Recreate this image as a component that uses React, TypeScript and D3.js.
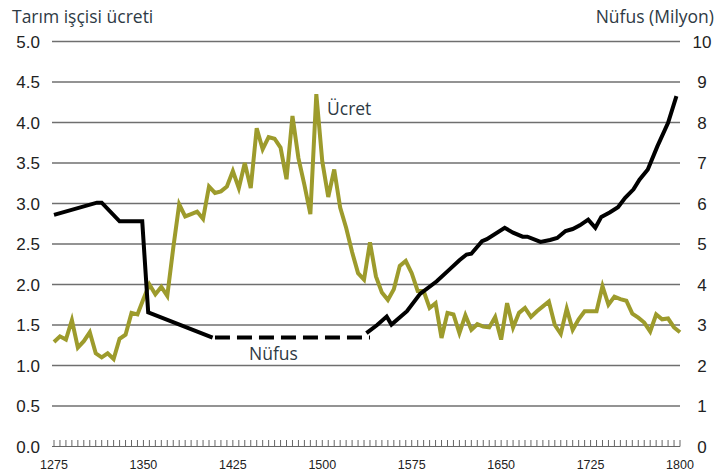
import React from "react"
import * as d3 from "d3"

// wage (left axis), every 5 years from 1275 to 1800
const wageStart = 1275
const wageStep = 5
const wage = [
  1.29, 1.36, 1.32, 1.56, 1.22, 1.30, 1.41, 1.15, 1.10, 1.15,
  1.08, 1.33, 1.38, 1.65, 1.63, 1.82, 2.00, 1.88, 1.97, 1.86,
  2.45, 2.99, 2.84, 2.87, 2.90, 2.81, 3.21, 3.13, 3.15, 3.21,
  3.40, 3.19, 3.50, 3.19, 3.93, 3.67, 3.82, 3.80, 3.69, 3.30,
  4.08, 3.56, 3.23, 2.87, 4.35, 3.52, 3.08, 3.42, 2.95, 2.70,
  2.40, 2.14, 2.06, 2.52, 2.10, 1.90, 1.81, 1.94, 2.23, 2.29,
  2.14, 1.92, 1.92, 1.71, 1.77, 1.34, 1.65, 1.63, 1.40, 1.62,
  1.44, 1.51, 1.48, 1.47, 1.60, 1.32, 1.77, 1.47, 1.65, 1.71,
  1.60, 1.67, 1.73, 1.79, 1.50, 1.39, 1.70, 1.44, 1.57, 1.67,
  1.67, 1.67, 1.98, 1.75, 1.85, 1.82, 1.80, 1.64, 1.59, 1.53,
  1.42, 1.63, 1.57, 1.58, 1.47, 1.41,
]

// population (right axis, millions)
const popEarlyYears = [1275, 1311, 1315, 1330, 1349, 1354, 1408]
const popEarly = [5.72, 6.02, 6.02, 5.56, 5.56, 3.31, 2.69]
const popGapYears = [1410, 1540]
const popGap = [2.69, 2.69]
const popLateYears = [
  1537, 1546, 1554, 1558, 1571, 1582, 1596, 1607, 1615, 1621, 1625, 1634,
  1638, 1653, 1660, 1668, 1672, 1683, 1691, 1697, 1704, 1710, 1716, 1723,
  1729, 1734, 1741, 1748, 1754, 1761, 1766, 1773, 1781, 1790, 1797,
]
const popLate = [
  2.80, 3.0, 3.21, 3.01, 3.34, 3.77, 4.08, 4.38, 4.6, 4.74, 4.76, 5.07,
  5.12, 5.40, 5.28, 5.18, 5.18, 5.05, 5.1, 5.15, 5.32, 5.37, 5.46, 5.6,
  5.4, 5.67, 5.78, 5.91, 6.14, 6.35, 6.59, 6.84, 7.41, 7.99, 8.65,
]

const leftTicks = ["0.0", "0.5", "1.0", "1.5", "2.0", "2.5", "3.0", "3.5", "4.0", "4.5", "5.0"]
const rightTicks = [0, 1, 2, 3, 4, 5, 6, 7, 8, 9, 10]
const yearLabels = [1275, 1350, 1425, 1500, 1575, 1650, 1725, 1800]

const W = 718
const H = 472

export default function App() {
  const x = d3.scaleLinear().domain([1275, 1800]).range([54, 680])
  const yL = d3.scaleLinear().domain([0, 5]).range([446.5, 41.5])
  const yR = d3.scaleLinear().domain([0, 10]).range([446.5, 41.5])

  const wageLine = d3.line<number>()
    .x((d, i) => x(wageStart + i * wageStep))
    .y(d => yL(d))
  const popLine = d3.line<[number, number]>()
    .x(d => x(d[0]))
    .y(d => yR(d[1]))

  const early = popEarlyYears.map((yr, i) => [yr, popEarly[i]] as [number, number])
  const gap = popGapYears.map((yr, i) => [yr, popGap[i]] as [number, number])
  const late = popLateYears.map((yr, i) => [yr, popLate[i]] as [number, number])

  const tickYears = d3.range(1275, 1801, 5)
  const base = yL(0)

  return (
    <svg width={W} height={H} style={{ position: "absolute", left: 0, top: 0, background: "#fff" }}>
      {/* gridlines */}
      {leftTicks.slice(1).map(t => (
        <line key={t} x1={52} x2={680} y1={yL(+t)} y2={yL(+t)} stroke="#6f6f6f" strokeWidth={1.3} />
      ))}
      {/* x axis comb */}
      <line x1={52} x2={680} y1={base} y2={base} stroke="#666" strokeWidth={1} />
      {tickYears.map(t => (
        <line key={t} x1={x(t)} x2={x(t)} y1={base} y2={base - 6.5} stroke="#666" strokeWidth={1} />
      ))}

      {/* axis labels */}
      <g fontFamily="Liberation Sans, Arial, sans-serif" fontSize={17} fill="#222">
        {leftTicks.map(t => (
          <text key={t} x={40} y={yL(+t)} dy="0.36em" textAnchor="end">{t}</text>
        ))}
        {rightTicks.map(t => (
          <text key={t} x={702} y={yR(t)} dy="0.36em" textAnchor="middle">{t}</text>
        ))}
      </g>
      <g fontFamily="Liberation Sans, Arial, sans-serif" fontSize={12.5} fill="#222">
        {yearLabels.map(t => (
          <text key={t} x={x(t)} y={469} textAnchor="middle">{t}</text>
        ))}
      </g>

      {/* titles */}
      <g fontFamily="Open Sans, sans-serif" fontSize={17.5} fill="#2e3a44">
        <text x={12} y={23}>Tarım işçisi ücreti</text>
        <text x={714} y={23} textAnchor="end">Nüfus (Milyon)</text>
        <text x={327} y={115}>Ücret</text>
        <text x={249} y={360}>Nüfus</text>
      </g>

      {/* series */}
      <path d={wageLine(wage) || ""} fill="none" stroke="#9d9b2c" strokeWidth={4} strokeLinejoin="miter" />
      <path d={popLine(early) || ""} fill="none" stroke="#000" strokeWidth={4} />
      <path d={popLine(gap) || ""} fill="none" stroke="#000" strokeWidth={4} strokeDasharray="15,7" />
      <path d={popLine(late) || ""} fill="none" stroke="#000" strokeWidth={4} />
    </svg>
  )
}
